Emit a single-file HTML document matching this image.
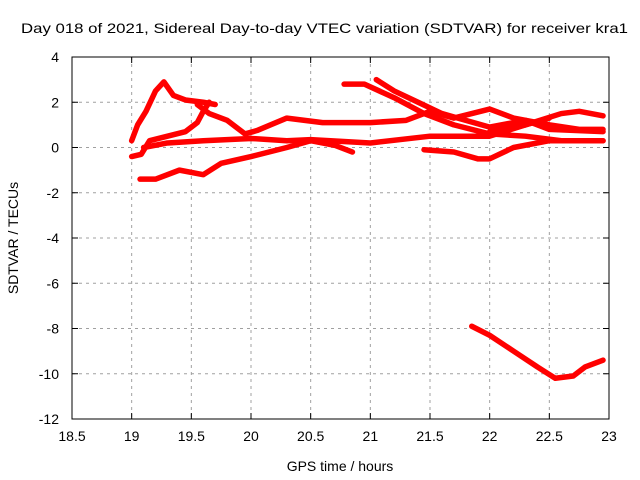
<!DOCTYPE html>
<html><head><meta charset="utf-8"><style>
body{margin:0;background:#fff}
svg{display:block;font-family:"Liberation Sans",sans-serif;font-size:14px}
</style></head><body>
<svg id="chart" width="640" height="480">
<rect width="640" height="480" fill="#fff"/>
<text x="21" y="33" textLength="607" lengthAdjust="spacingAndGlyphs">Day 018 of 2021, Sidereal Day-to-day VTEC variation (SDTVAR) for receiver kra1</text>
<g id="grid"></g><g id="series"></g><g id="axes"></g>
<text x="340" y="471" text-anchor="middle">GPS time / hours</text>
<text transform="translate(18,238) rotate(-90)" text-anchor="middle">SDTVAR / TECUs</text>
</svg>
<script>
const xTicks=[18.5,19,19.5,20,20.5,21,21.5,22,22.5,23];
const yTicks=[4,2,0,-2,-4,-6,-8,-10,-12];
const seriesA=[[19.0,0.3],[19.05,1.0],[19.12,1.6],[19.2,2.5],[19.27,2.9],[19.35,2.3],[19.45,2.1],[19.6,2.0],[19.7,1.9]];
const seriesB=[[19.55,1.9],[19.65,1.5],[19.8,1.2],[19.95,0.6],[20.05,0.75],[20.3,1.3],[20.6,1.1],[21.0,1.1],[21.3,1.2],[21.5,1.6],[21.7,1.3],[22.0,1.7],[22.2,1.3],[22.5,1.0],[22.75,0.8],[22.95,0.8]];
const seriesC=[[19.0,-0.4],[19.08,-0.3],[19.15,0.3],[19.3,0.5],[19.45,0.7],[19.55,1.1],[19.6,1.6],[19.65,2.0]];
const seriesD=[[19.1,0.0],[19.3,0.2],[19.6,0.3],[20.0,0.4],[20.3,0.3],[20.5,0.35],[21.0,0.2],[21.5,0.5],[22.0,0.5],[22.3,1.0],[22.5,1.3]];
const seriesE=[[19.07,-1.4],[19.2,-1.4],[19.4,-1.0],[19.6,-1.2],[19.75,-0.7],[20.0,-0.4],[20.3,0.0],[20.5,0.3],[20.7,0.1],[20.85,-0.2]];
const seriesF=[[20.78,2.8],[20.95,2.8],[21.2,2.2],[21.45,1.5],[21.7,1.0],[22.0,0.6],[22.3,0.5],[22.6,0.3],[22.95,0.3]];
const seriesG=[[21.05,3.0],[21.2,2.5],[21.4,2.0],[21.6,1.5],[21.8,1.2],[22.0,0.9],[22.3,1.2],[22.5,0.8],[22.95,0.7]];
const seriesH=[[21.45,-0.1],[21.7,-0.2],[21.9,-0.5],[22.0,-0.5],[22.2,0.0],[22.5,0.3],[22.7,0.3],[22.95,0.3]];
const seriesI=[[22.0,0.7],[22.3,1.0],[22.6,1.5],[22.75,1.6],[22.95,1.4]];
const seriesK=[[21.85,-7.9],[22.0,-8.3],[22.2,-9.0],[22.4,-9.7],[22.55,-10.2],[22.7,-10.1],[22.8,-9.7],[22.95,-9.4]];
const allSeries=[seriesA,seriesB,seriesC,seriesD,seriesE,seriesF,seriesG,seriesH,seriesI,seriesK];
const L=72,R=609,T=57,B=419;
const xs=h=>L+(h-18.5)/(23-18.5)*(R-L);
const ys=v=>T+(4-v)/16*(B-T);
const NS='http://www.w3.org/2000/svg';
function mk(t,a,p){const e=document.createElementNS(NS,t);for(const k in a)e.setAttribute(k,a[k]);p.appendChild(e);return e;}
const grid=document.getElementById('grid'),axes=document.getElementById('axes'),ser=document.getElementById('series');
xTicks.forEach(t=>{const x=xs(t);
 if(t>18.5&&t<23){const g=mk('line',{x1:x,x2:x,y1:T,y2:B,stroke:'#a0a0a0','stroke-dasharray':'3,4'},grid);
 
 }
 mk('line',{x1:x,x2:x,y1:B,y2:B-6,stroke:'#000'},axes);
 mk('line',{x1:x,x2:x,y1:T,y2:T+6,stroke:'#000'},axes);
 const tx=mk('text',{x:x,y:B+22,'text-anchor':'middle'},axes);tx.textContent=t;
 
 });
yTicks.forEach(t=>{const y=ys(t);
 if(t<4&&t>-12){const g=mk('line',{x1:L,x2:R,y1:y,y2:y,stroke:'#a0a0a0','stroke-dasharray':'3,4'},grid);
 
 }
 mk('line',{x1:L,x2:L+6,y1:y,y2:y,stroke:'#000'},axes);
 mk('line',{x1:R,x2:R-6,y1:y,y2:y,stroke:'#000'},axes);
 const tx=mk('text',{x:L-13,y:y+5,'text-anchor':'end'},axes);tx.textContent=t;
 
 });
const fr=mk('rect',{x:L,y:T,width:R-L,height:B-T,fill:'none',stroke:'#000'},axes);


allSeries.forEach(s=>{const pts=s.map(p=>xs(p[0])+','+ys(p[1])).join(' ');
 const pl=mk('polyline',{points:pts,fill:'none',stroke:'#ff0000','stroke-width':5.5,'stroke-linejoin':'round','stroke-linecap':'round'},ser);
 
 });
</script>
</body></html>
